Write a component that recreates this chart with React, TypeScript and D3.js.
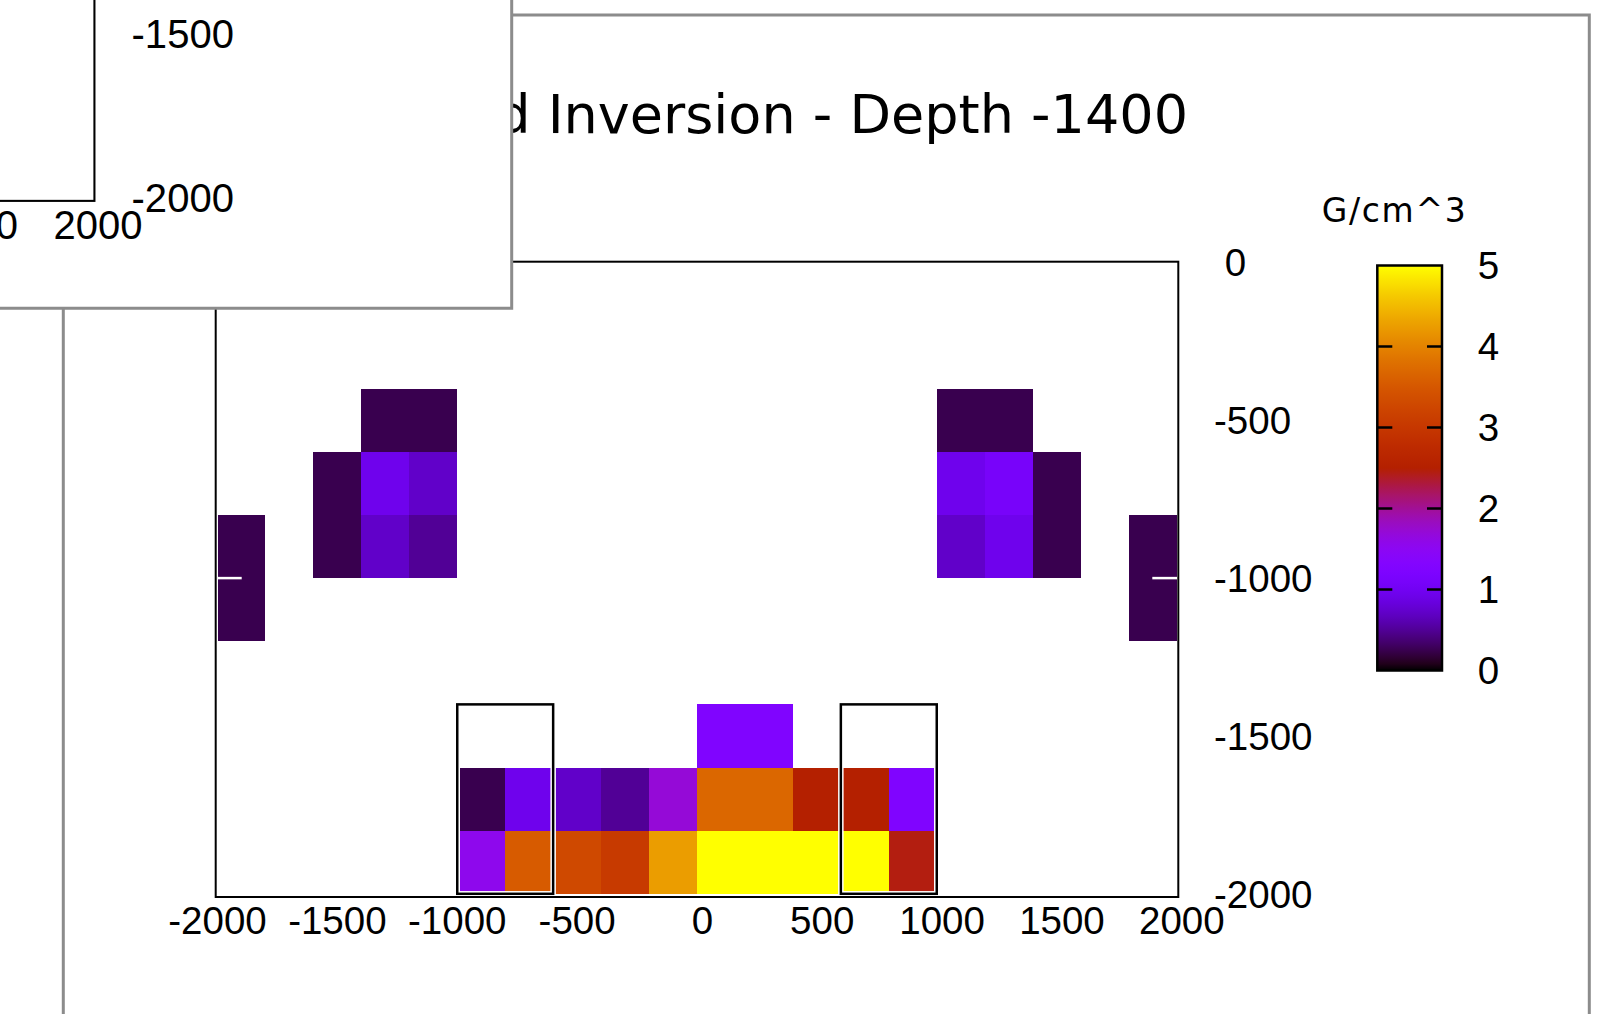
import React from 'react';
import * as d3 from 'd3';

const WIDTH = 1616;
const HEIGHT = 1014;

// Axis ticks
const xTicks = [-2000, -1500, -1000, -500, 0, 500, 1000, 1500, 2000];
const yTicks = [0, -500, -1000, -1500, -2000];
const cbTicks = [0, 1, 2, 3, 4, 5];

// Inverted density blocks: left edge (x), top edge (depth), density in G/cm^3
const CELL = 200;
const cellLeft = [
  -2000, -2000, -1600, -1600, -1400, -1200, -1400, -1200, -1400, -1200,
  1000, 1200, 1000, 1200, 1000, 1200, 1400, 1400, 1800, 1800,
  0, 200,
  -1000, -800, -600, -400, -200, 0, 200, 400, 600, 800,
  -1000, -800, -600, -400, -200, 0, 200, 400, 600, 800,
];
const cellTop = [
  -800, -1000, -600, -800, -400, -400, -600, -600, -800, -800,
  -400, -400, -600, -600, -800, -800, -600, -800, -800, -1000,
  -1400, -1400,
  -1600, -1600, -1600, -1600, -1600, -1600, -1600, -1600, -1600, -1600,
  -1800, -1800, -1800, -1800, -1800, -1800, -1800, -1800, -1800, -1800,
];
const cellDensity = [
  0.25, 0.25, 0.25, 0.25, 0.25, 0.25, 0.95, 0.72, 0.72, 0.5,
  0.25, 0.25, 0.95, 1.1, 0.72, 0.95, 0.25, 0.25, 0.25, 0.25,
  1.25, 1.25,
  0.25, 0.95, 0.72, 0.5, 1.7, 3.7, 3.7, 2.5, 2.5, 1.25,
  1.55, 3.55, 3.3, 3.05, 4.25, 5, 5, 5, 5, 2.45,
];

// Outlined source bodies
const boxLeft = [-1000, 600];
const boxRight = [-600, 1000];
const boxTop = [-1400, -1400];
const boxBottom = [-2000, -2000];

const titleText = 'd Inversion - Depth -1400';
const cbLabel = 'G/cm^3';

const x = d3.scaleLinear().domain([-2000, 2000]).range([217.5, 1176.5]);
const y = d3.scaleLinear().domain([0, -2000]).range([262.4, 893.8]);
const cb = d3.scaleLinear().domain([0, 5]).range([670.5, 265.5]);

const frame = { left: 215.7, right: 1178.3, top: 261.7, bottom: 897 };
const cbBox = { left: 1377.3, right: 1442 };

// pm3d-style palette: r = sqrt(t), g = t^3, b = sin(2*pi*t)
function density(v: number): string {
  const t = Math.max(0, Math.min(1, v / 5));
  const r = Math.sqrt(t);
  const g = t * t * t;
  const b = Math.max(0, Math.sin(2 * Math.PI * t));
  return d3.rgb(r * 255, g * 255, b * 255).formatHex();
}

const fmt = (v: number) => (v < 0 ? `-${-v}` : `\u00a0${v}`);

const tickFont = 'Liberation Sans, Arial, sans-serif';
const textFont = 'DejaVu Sans, sans-serif';

function DensityPlot() {
  const stops = d3.range(0, 61).map((i) => i / 60);
  return (
    <g>
      <text x={1188} y={133.3} textAnchor="end" fontFamily={textFont} fontSize={54} fill="#000">
        {titleText}
      </text>

      <g shapeRendering="crispEdges">
        {cellLeft.map((cx, i) => (
          <rect
            key={i}
            x={x(cx)}
            y={y(cellTop[i])}
            width={x(cx + CELL) - x(cx)}
            height={y(cellTop[i] - CELL) - y(cellTop[i])}
            fill={density(cellDensity[i])}
          />
        ))}
      </g>

      {boxLeft.map((bx, i) => (
        <g key={i}>
          <rect
            x={x(bx)}
            y={y(boxTop[i])}
            width={x(boxRight[i]) - x(bx)}
            height={y(boxBottom[i]) - y(boxTop[i])}
            fill="none"
            stroke="#fff"
            strokeWidth={5.5}
          />
          <rect
            x={x(bx)}
            y={y(boxTop[i])}
            width={x(boxRight[i]) - x(bx)}
            height={y(boxBottom[i]) - y(boxTop[i])}
            fill="none"
            stroke="#000"
            strokeWidth={2.5}
          />
        </g>
      ))}

      {yTicks.map((t) => (
        <g key={t} stroke="#fff" strokeWidth={2.5}>
          <line x1={frame.left} x2={frame.left + 26} y1={y(t)} y2={y(t)} />
          <line x1={frame.right - 26} x2={frame.right} y1={y(t)} y2={y(t)} />
        </g>
      ))}

      <rect
        x={frame.left}
        y={frame.top}
        width={frame.right - frame.left}
        height={frame.bottom - frame.top}
        fill="none"
        stroke="#000"
        strokeWidth={2}
      />

      {xTicks.map((t) => (
        <text key={t} x={x(t)} y={934} textAnchor="middle" fontFamily={tickFont} fontSize={38.5} fill="#000">
          {fmt(t)}
        </text>
      ))}
      {yTicks.map((t) => (
        <text key={t} x={frame.right + 35.7} y={y(t) + 13.8} fontFamily={tickFont} fontSize={38.5} fill="#000">
          {fmt(t)}
        </text>
      ))}

      <text
        x={1321.7}
        y={222.3}
        fontFamily={textFont}
        fontSize={33}
        textLength={144}
        lengthAdjust="spacing"
        fill="#000"
      >
        {cbLabel}
      </text>
      <defs>
        <linearGradient id="cbGradient" x1="0" y1="1" x2="0" y2="0">
          {stops.map((s) => (
            <stop key={s} offset={s} stopColor={density(s * 5)} />
          ))}
        </linearGradient>
      </defs>
      <rect
        x={cbBox.left}
        y={cb(5)}
        width={cbBox.right - cbBox.left}
        height={cb(0) - cb(5)}
        fill="url(#cbGradient)"
        stroke="#000"
        strokeWidth={2.5}
      />
      {cbTicks
        .filter((t) => t > 0 && t < 5)
        .map((t) => (
          <g key={t} stroke="#000" strokeWidth={2.5}>
            <line x1={cbBox.left} x2={cbBox.left + 15} y1={cb(t)} y2={cb(t)} />
            <line x1={cbBox.right - 15} x2={cbBox.right} y1={cb(t)} y2={cb(t)} />
          </g>
        ))}
      {cbTicks.map((t) => (
        <text key={t} x={cbBox.right + 25} y={cb(t) + 13.8} fontFamily={tickFont} fontSize={38.5} fill="#000">
          {fmt(t)}
        </text>
      ))}
    </g>
  );
}

export default function App() {
  const winGray = '#8c8c8c';
  const small = { w: 511.7, h: 308.3 };
  return (
    <svg
      width={WIDTH}
      height={HEIGHT}
      viewBox={`0 0 ${WIDTH} ${HEIGHT}`}
      style={{ position: 'absolute', left: 0, top: 0, display: 'block', background: '#fff' }}
    >
      <defs>
        <clipPath id="smallWindowClip">
          <rect x={0} y={0} width={small.w} height={small.h} />
        </clipPath>
      </defs>

      {/* main plot window */}
      <rect x={63.3} y={15} width={1589.3 - 63.3} height={1200} fill="#fff" stroke={winGray} strokeWidth={3} />
      <DensityPlot />

      {/* second window overlapping the top-left corner */}
      <g clipPath="url(#smallWindowClip)">
        <rect x={0} y={0} width={small.w} height={small.h} fill="#fff" />
        <g transform="translate(-1131,-732) scale(1.04)">
          <DensityPlot />
        </g>
      </g>
      <path d={`M${small.w},-5 V${small.h} H-5`} fill="none" stroke={winGray} strokeWidth={3} />
    </svg>
  );
}
